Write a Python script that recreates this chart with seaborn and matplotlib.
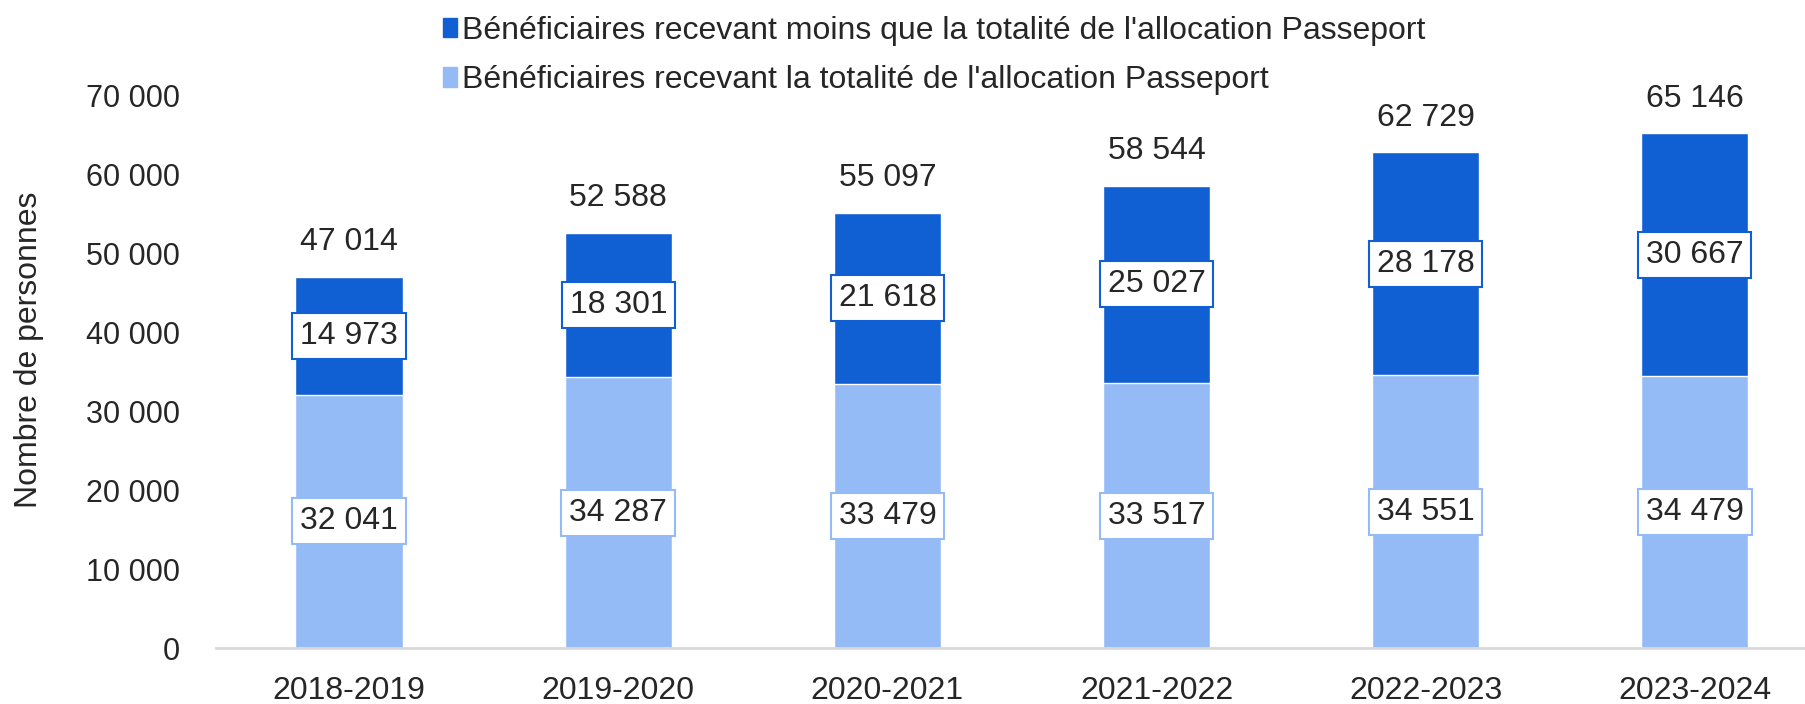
import matplotlib
matplotlib.use("Agg")
import matplotlib.pyplot as plt
from matplotlib.patches import Patch
import seaborn as sns
import pandas as pd

# Data
years = ["2018-2019", "2019-2020", "2020-2021", "2021-2022", "2022-2023", "2023-2024"]
full_alloc = [32041, 34287, 33479, 33517, 34551, 34479]
partial_alloc = [14973, 18301, 21618, 25027, 28178, 30667]
totals = [47014, 52588, 55097, 58544, 62729, 65146]

label_partial = "Bénéficiaires recevant moins que la totalité de l'allocation Passeport"
label_full = "Bénéficiaires recevant la totalité de l'allocation Passeport"

dark_blue = "#1160D3"
light_blue = "#95BBF6"


def fmt(v):
    return f"{v:,}".replace(",", " ")


sns.set_theme(style="white")
plt.rcParams["font.family"] = ["Liberation Sans", "DejaVu Sans"]

df = pd.DataFrame({"year": years, "full": full_alloc, "partial": partial_alloc, "total": totals})

fig = plt.figure(figsize=(18.05, 7.04), dpi=100)
ax = fig.add_axes([0.1197, 0.0795, 0.8803, 0.7855])

# stacked look: totals in dark, full allocation drawn on top in light
sns.barplot(data=df, x="year", y="total", color=dark_blue, width=0.4, saturation=1, ax=ax)
sns.barplot(data=df, x="year", y="full", color=light_blue, width=0.4, saturation=1, ax=ax)

for i, row in df.iterrows():
    ax.text(i, row["full"] / 2, fmt(row["full"]), ha="center", va="center", fontsize=23,
            bbox=dict(boxstyle="square,pad=0.25", fc="white", ec=light_blue, lw=1.5))
    ax.text(i, row["full"] + row["partial"] / 2, fmt(row["partial"]), ha="center", va="center",
            fontsize=23, bbox=dict(boxstyle="square,pad=0.25", fc="white", ec=dark_blue, lw=1.5))
    ax.annotate(fmt(row["total"]), (i, row["total"]), xytext=(0, 25), textcoords="offset points",
                ha="center", va="center", fontsize=23)

ax.set_ylim(0, 70000)
ax.set_xlim(-0.495, 5.41)
ax.set_yticks(range(0, 70001, 10000))
ax.set_yticklabels([fmt(v) for v in range(0, 70001, 10000)], fontsize=22)
ax.tick_params(axis="x", labelsize=23, length=0, pad=20)
ax.tick_params(axis="y", length=0, pad=26)
ax.set_xlabel("")
ax.set_ylabel("Nombre de personnes", fontsize=23)
ax.yaxis.set_label_coords(-0.108, 0.54)

for s in ["top", "right", "left"]:
    ax.spines[s].set_visible(False)
ax.spines["bottom"].set_color("#D9D9D9")
ax.spines["bottom"].set_linewidth(2)

handles = [Patch(color=dark_blue, label=label_partial), Patch(color=light_blue, label=label_full)]
fig.legend(handles=handles, loc="upper left", bbox_to_anchor=(0.2295, 1.018), frameon=False,
           fontsize=23, handlelength=0.45, handleheight=0.55, handletextpad=0.15, labelspacing=0.6)

fig.savefig("out.png", dpi=100)
